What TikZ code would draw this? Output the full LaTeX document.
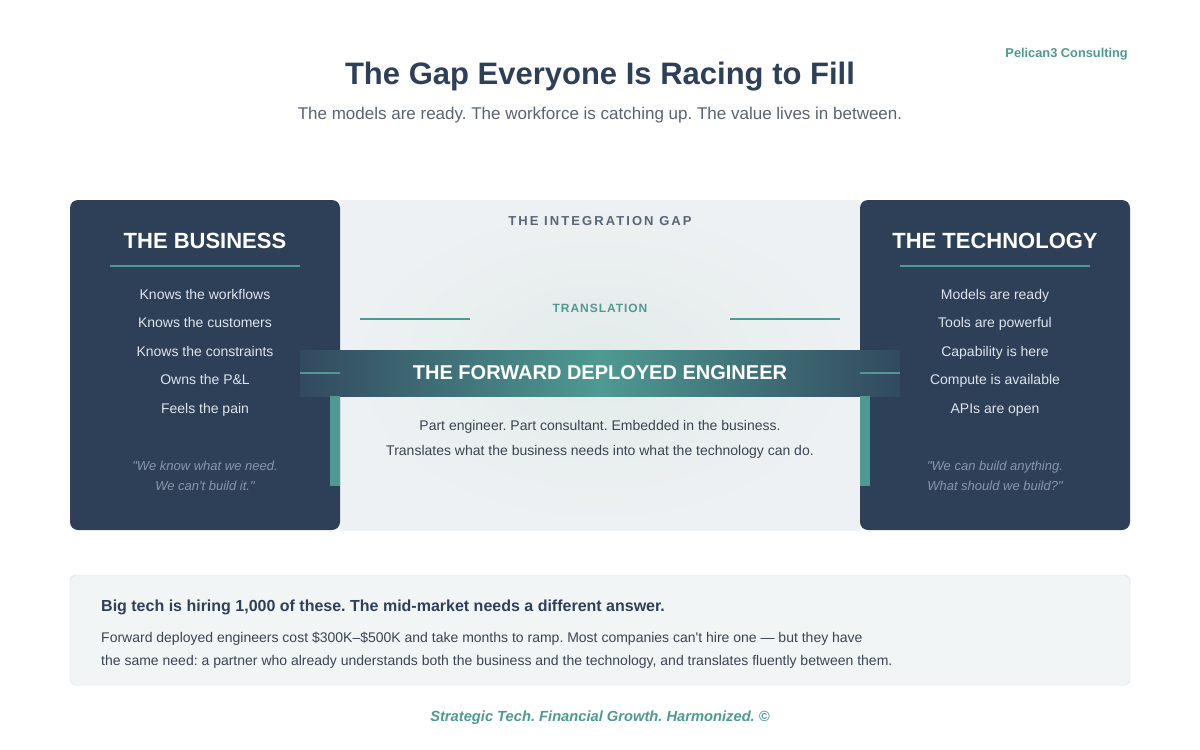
\documentclass[tikz,border=0pt]{standalone}
\usepackage{fontspec}
\setmainfont{Liberation Sans}[Ligatures=TeXOff]
\newfontfamily\gapfont[LetterSpace=16]{Liberation Sans}
\newfontfamily\transfont[LetterSpace=8]{Liberation Sans}
\usetikzlibrary{positioning}
\definecolor{navy}{HTML}{2E3F58}
\definecolor{tealc}{HTML}{4E9A92}
\definecolor{bandedge}{HTML}{32495F}
\definecolor{itemtxt}{HTML}{DDE4EB}
\definecolor{quotetxt}{HTML}{8797AB}
\definecolor{gaptxt}{HTML}{5A6676}
\definecolor{subtxt}{HTML}{5A6370}
\definecolor{bodytxt}{HTML}{3A4452}
\definecolor{gapbg}{HTML}{EEF1F3}
\definecolor{gapbgin}{HTML}{E3EBEA}
\definecolor{notebg}{HTML}{F2F5F6}
\definecolor{noteline}{HTML}{D5DCE0}
\frenchspacing

\begin{document}
\begin{tikzpicture}[x=1pt, y=-1pt, node distance=0pt,
  panel/.style={fill=navy, rounded corners=8pt},
  head/.style={font=\fontsize{22}{26}\selectfont\bfseries, text=white},
  item/.style={font=\fontsize{14}{17}\selectfont, text=itemtxt, inner sep=0pt, minimum height=28pt, text height=10pt, text depth=3pt},
  quote/.style={font=\fontsize{13}{20}\selectfont\itshape, text=quotetxt, align=center, inner sep=0pt},
  rule/.style={draw=tealc, line width=2.5pt},
  midtxt/.style={font=\fontsize{14}{25}\selectfont, text=bodytxt, align=center, inner sep=0pt}]
\useasboundingbox[fill=white] (0,0) rectangle (1200,750);

% title block
\node[font=\fontsize{31}{37}\selectfont\bfseries, text=navy] (title) at (600,77) {The Gap Everyone Is Racing to Fill};
\node[font=\fontsize{17}{20}\selectfont, text=subtxt] (sub) at (600,115) {The models are ready. The workforce is catching up. The value lives in between.};
\node[font=\fontsize{12.8}{15}\selectfont\bfseries, text=tealc, anchor=east, inner sep=0pt] (brand) at (1128,54) {Pelican3 Consulting};

% the gap in the middle
\shade[inner color=gapbgin, outer color=gapbg] (340,200) rectangle (860,530);
\node[font=\fontsize{13}{15}\selectfont\bfseries\gapfont, text=gaptxt] (gap) at (600,221) {THE INTEGRATION GAP};
\node[font=\fontsize{12}{14}\selectfont\bfseries\transfont, text=tealc] (trans) at (600,308) {TRANSLATION};
\draw[rule] (360,319) -- (470,319);
\draw[rule] (730,319) -- (840,319);

% left and right panels
\fill[panel] (70,200) rectangle (340,530);
\fill[panel] (860,200) rectangle (1130,530);

\node[head] (bizhead) at (205,241) {THE BUSINESS};
\draw[rule, line width=2pt] (110,266) -- (300,266);
\node[item] (b1) at (205,296) {Knows the workflows};
\node[item, below=of b1] (b2) {Knows the customers};
\node[item, below=of b2] (b3) {Knows the constraints};
\node[item, below=of b3] (b4) {Owns the P\&L};
\node[item, below=of b4] (b5) {Feels the pain};
\node[quote] (bizquote) at (205,476) {"We know what we need.\\We can't build it."};

\node[head] (techhead) at (995,241) {THE TECHNOLOGY};
\draw[rule, line width=2pt] (900,266) -- (1090,266);
\node[item] (t1) at (995,296) {Models are ready};
\node[item, below=of t1] (t2) {Tools are powerful};
\node[item, below=of t2] (t3) {Capability is here};
\node[item, below=of t3] (t4) {Compute is available};
\node[item, below=of t4] (t5) {APIs are open};
\node[quote] (techquote) at (995,476) {"We can build anything.\\What should we build?"};

% the engineer band
\shade[left color=bandedge, right color=bandedge, middle color=tealc] (300,350) rectangle (900,396);
\draw[rule] (300,373) -- (340,373);
\draw[rule] (860,373) -- (900,373);
\fill[tealc] (330,396) rectangle (340,486);
\fill[tealc] (860,396) rectangle (870,486);
\node[font=\fontsize{20}{24}\selectfont\bfseries, text=white] (fde) at (600,373) {THE FORWARD DEPLOYED ENGINEER};
\node[midtxt] (fdetxt) at (600,439) {Part engineer. Part consultant. Embedded in the business.\\Translates what the business needs into what the technology can do.};

% note at the bottom
\draw[fill=notebg, draw=noteline, rounded corners=6pt] (70,575) rectangle (1130,685);
\node[font=\fontsize{16}{19}\selectfont\bfseries, text=navy, anchor=west, inner sep=0pt] (notehead) at (101,607) {Big tech is hiring 1,000 of these. The mid-market needs a different answer.};
\node[font=\fontsize{14}{23}\selectfont, text=bodytxt, anchor=west, align=left, inner sep=0pt] (notebody) at (101,650.5) {Forward deployed engineers cost \$300K–\$500K and take months to ramp. Most companies can't hire one — but they have\\the same need: a partner who already understands both the business and the technology, and translates fluently between them.};
\node[font=\fontsize{14.7}{17}\selectfont\bfseries\itshape, text=tealc] (tagline) at (600,718) {Strategic Tech. Financial Growth. Harmonized. ©};
\end{tikzpicture}
\end{document}
